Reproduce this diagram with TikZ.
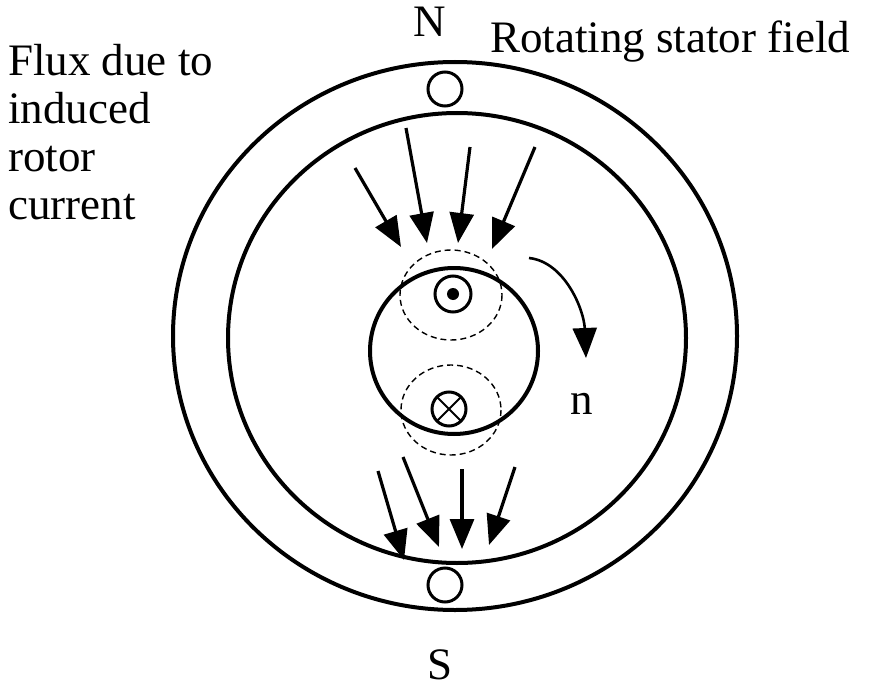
\documentclass[tikz,border=0pt]{standalone}
\usepackage{fontspec}
\setmainfont{Liberation Serif}
\usetikzlibrary{arrows.meta}
\begin{document}
\begin{tikzpicture}[x=1pt,y=-1pt,
 ln/.style={line width=4pt},
 fl/.style={line width=3.2pt,-{Triangle[length=30pt,width=24pt]}},
 dsh/.style={line width=1.4pt,dash pattern=on 6pt off 4pt},
 lbl/.style={font=\fontsize{45}{48}\selectfont,inner sep=0pt}]
\useasboundingbox (0,0) rectangle (886,690);
\draw[ln] (455,336) ellipse [x radius=282,y radius=274];
\draw[ln] (457,338) ellipse [x radius=229,y radius=225];
\draw[ln] (454,351) ellipse [x radius=84,y radius=83];
\draw[line width=3pt] (445,89) circle (17);
\draw[line width=3pt] (445,585) circle (17);
\draw[line width=3pt] (453,294) circle (18);
\fill (453,294) circle (6);
\draw[line width=3pt] (449,409) circle (17);
\draw[line width=2pt] (449,409) ++(45:17) -- ++(225:34) (449,409) ++(135:17) -- ++(315:34);
\draw[dsh] (451,295) ellipse [x radius=51,y radius=45];
\draw[dsh] (451,410) ellipse [x radius=50,y radius=45];
\coordinate (a1) at (355,168); \coordinate (b1) at (401,247);
\coordinate (a2) at (406,128); \coordinate (b2) at (427,243);
\coordinate (a3) at (470,147); \coordinate (b3) at (458,243);
\coordinate (a4) at (535,147); \coordinate (b4) at (492,249);
\coordinate (c1) at (378,471); \coordinate (d1) at (404,560);
\coordinate (c2) at (403,457); \coordinate (d2) at (439,547);
\coordinate (c3) at (462,469); \coordinate (d3) at (462,549);
\coordinate (c4) at (515,467); \coordinate (d4) at (489,545);
\foreach \i in {1,...,4}{\draw[fl] (a\i) -- (b\i); \draw[fl] (c\i) -- (d\i);}
\coordinate (r0) at (529,258); \coordinate (r1) at (586,358);
\draw[line width=2.6pt,-{Triangle[length=30pt,width=24pt]}] (r0) .. controls (565,262) and (584,310) .. (r1);
\node[lbl] (n) at (582,404) {n};
\node[lbl] (N) at (430,22) {N};
\node[lbl] (S) at (440,665) {S};
\node[lbl,anchor=west] (rot) at (490,42) {Rotating stator field};
\node[lbl,anchor=north west,align=left] (flux) at (8,44) {Flux due to\\induced\\rotor\\current};
\end{tikzpicture}
\end{document}
